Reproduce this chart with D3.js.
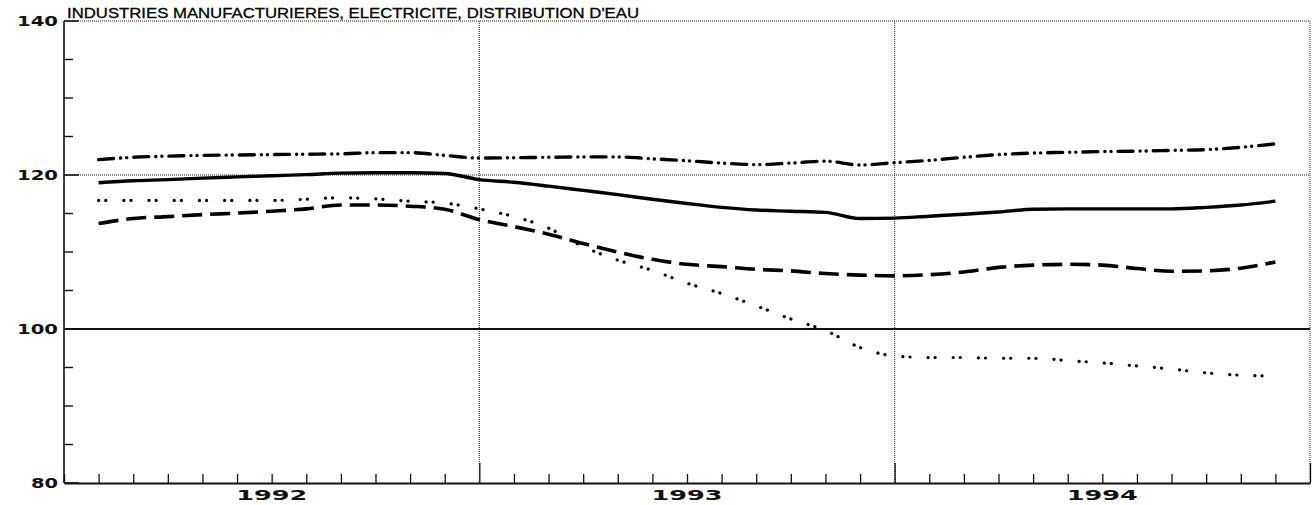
<!DOCTYPE html>
<html>
<head>
<meta charset="utf-8">
<script src="https://cdn.jsdelivr.net/npm/d3@7"></script>
<style>
  body { margin: 0; background: #fff; }
  svg { display: block; }
  .ylab, .xlab { font-family: "DejaVu Sans", sans-serif; font-size: 14px; font-weight: bold; fill: #111; }
  .titre { font-family: "Liberation Sans Narrow", "Liberation Sans", Arial, sans-serif; font-size: 15px; fill: #000; stroke: #000; stroke-width: 0.3; }
</style>
</head>
<body>
<div id="panel1"></div>
<script>
var width = 1316, height = 505;
var margin = {top: 21, left: 64, right: 6, bottom: 22};

// monthly points, Feb 1992 .. Dec 1994 (month n counted from Jan 1992 = 0)
var years = ["1992", "1993", "1994"];
var firstMonth = 1;

var serieTrait = [119.0, 119.25, 119.4, 119.6, 119.75, 119.9, 120.05, 120.25, 120.3, 120.3, 120.2, 119.4,
                  119.05, 118.55, 118.0, 117.45, 116.85, 116.3, 115.8, 115.45, 115.3, 115.15, 114.35, 114.4,
                  114.65, 114.9, 115.2, 115.55, 115.6, 115.6, 115.6, 115.6, 115.8, 116.1, 116.6];
var serieMixte = [122.0, 122.3, 122.45, 122.55, 122.6, 122.65, 122.7, 122.75, 122.9, 122.9, 122.55, 122.2,
                  122.25, 122.3, 122.35, 122.35, 122.1, 121.85, 121.55, 121.35, 121.55, 121.8, 121.3, 121.6,
                  121.9, 122.3, 122.65, 122.85, 122.95, 123.05, 123.1, 123.2, 123.3, 123.6, 124.05];
var seriePoint = [116.7, 116.7, 116.7, 116.7, 116.7, 116.7, 116.85, 117.05, 116.9, 116.6, 116.35, 115.6,
                  114.6, 113.1, 110.7, 108.95, 107.6, 105.95, 104.6, 103.0, 101.3, 99.8, 97.6, 96.5,
                  96.3, 96.3, 96.2, 96.2, 95.9, 95.6, 95.2, 94.8, 94.3, 94.0, 93.9];
var serieTiret = [113.7, 114.35, 114.6, 114.85, 115.05, 115.3, 115.6, 116.1, 116.1, 115.95, 115.55, 114.2,
                  113.3, 112.3, 111.1, 110.0, 109.05, 108.4, 108.1, 107.75, 107.55, 107.2, 107.0, 106.9,
                  107.05, 107.4, 108.0, 108.3, 108.4, 108.3, 107.85, 107.5, 107.55, 107.9, 108.7];

var yMajor = [80, 100, 120, 140];
var yMinor = [85, 90, 95, 105, 110, 115, 125, 130, 135];
var titre = "INDUSTRIES MANUFACTURIERES, ELECTRICITE, DISTRIBUTION D'EAU";

var x = d3.scaleLinear().domain([0, 36]).range([margin.left, width - margin.right]);
var y = d3.scaleLinear().domain([80, 140]).range([height - margin.bottom, margin.top]);

var svg = d3.select("#panel1").append("svg")
    .attr("width", width)
    .attr("height", height);

var x0 = x(0), x1 = x(36), yb = y(80), yt = y(140);

// dotted grid : top border, 120, year limits, right border
svg.append("g").selectAll("line")
  .data([140, 120])
  .join("line")
    .attr("x1", x0).attr("x2", x1)
    .attr("y1", function(d) { return y(d); }).attr("y2", function(d) { return y(d); })
    .attr("stroke", "#222").attr("stroke-width", 1).attr("stroke-dasharray", "1,1");

svg.append("g").selectAll("line")
  .data([12, 24, 36])
  .join("line")
    .attr("x1", function(d) { return x(d); }).attr("x2", function(d) { return x(d); })
    .attr("y1", yt).attr("y2", yb)
    .attr("stroke", "#222").attr("stroke-width", 1).attr("stroke-dasharray", "1,1");

// solid line at 100
svg.append("line")
    .attr("x1", x0).attr("x2", x1)
    .attr("y1", y(100)).attr("y2", y(100))
    .attr("stroke", "#111").attr("stroke-width", 1.8);

// y axis
svg.append("line")
    .attr("x1", x0).attr("x2", x0).attr("y1", yt).attr("y2", yb)
    .attr("stroke", "#111").attr("stroke-width", 1.6);

svg.append("g").selectAll("line")
  .data(yMajor)
  .join("line")
    .attr("x1", x0).attr("x2", x0 + 15)
    .attr("y1", function(d) { return y(d); }).attr("y2", function(d) { return y(d); })
    .attr("stroke", "#111").attr("stroke-width", 1.6);

svg.append("g").selectAll("line")
  .data(yMinor)
  .join("line")
    .attr("x1", x0).attr("x2", x0 + 9)
    .attr("y1", function(d) { return y(d); }).attr("y2", function(d) { return y(d); })
    .attr("stroke", "#111").attr("stroke-width", 1.4);

svg.append("g").selectAll("text")
  .data(yMajor)
  .join("text")
    .attr("class", "ylab")
    .attr("x", x0 - 6)
    .attr("y", function(d) { return y(d) + 5; })
    .attr("text-anchor", "end")
    .attr("textLength", function(d) { return d < 100 ? 27 : 41; })
    .attr("lengthAdjust", "spacingAndGlyphs")
    .text(function(d) { return d; });

// x axis, monthly ticks
var moisTicks = d3.range(0, 37);
var xAxis = d3.axisBottom(x)
    .tickValues(moisTicks)
    .tickSize(-9)
    .tickSizeOuter(0)
    .tickFormat("");

var gx = svg.append("g")
    .attr("transform", "translate(0," + yb + ")")
    .call(xAxis);
gx.select(".domain").attr("stroke", "#111").attr("stroke-width", 1.8);
gx.selectAll(".tick line").attr("stroke", "#111").attr("stroke-width", 1.3)
    .attr("y2", function(d) { return d % 12 === 0 && d > 0 ? -20 : -9; });

svg.append("g").selectAll("text")
  .data(years)
  .join("text")
    .attr("class", "xlab")
    .attr("x", function(d, i) { return x(i * 12 + 6); })
    .attr("y", yb + 17)
    .attr("text-anchor", "middle")
    .attr("textLength", 71)
    .attr("lengthAdjust", "spacingAndGlyphs")
    .text(function(d) { return d; });

// title
svg.append("text")
    .attr("class", "titre")
    .attr("x", x0 + 3)
    .attr("y", yt - 3)
    .attr("textLength", 572)
    .attr("lengthAdjust", "spacingAndGlyphs")
    .text(titre);

// series
var line = d3.line()
    .x(function(d, i) { return x(i + firstMonth); })
    .y(function(d) { return y(d); })
    .curve(d3.curveMonotoneX);

var styles = [
  {data: serieTrait, dash: null, w: 3.4, cap: "butt"},
  {data: serieTiret, dash: "20,8", w: 3.6, cap: "butt"},
  {data: serieMixte, dash: "15,7,0.1,6,0.1,7", w: 3.4, cap: "round"},
  {data: seriePoint, dash: "0.1,7,0.1,18", w: 3.2, cap: "round"}
];

svg.append("g").selectAll("path")
  .data(styles)
  .join("path")
    .attr("fill", "none")
    .attr("stroke", "#000")
    .attr("stroke-width", function(d) { return d.w; })
    .attr("stroke-linecap", function(d) { return d.cap; })
    .attr("stroke-dasharray", function(d) { return d.dash; })
    .attr("d", function(d) { return line(d.data); });
</script>
</body>
</html>
